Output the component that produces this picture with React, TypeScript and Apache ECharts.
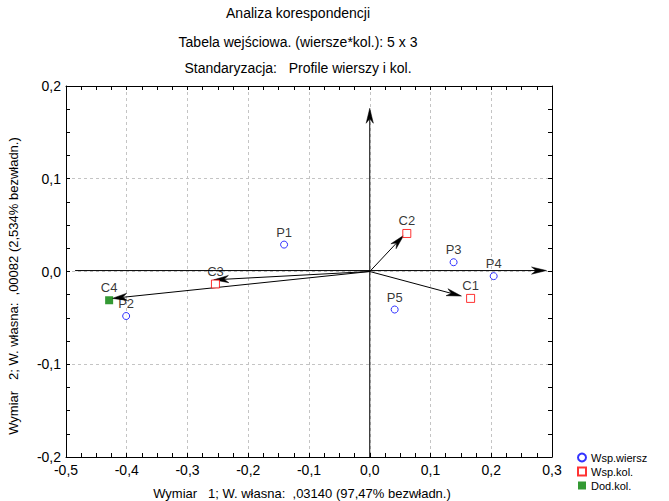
import React, { useEffect, useRef } from "react";
import * as echarts from "echarts";

const rowNames = ["P1", "P2", "P3", "P4", "P5"];
const rowX = [-0.141, -0.401, 0.138, 0.204, 0.041];
const rowY = [0.029, -0.048, 0.01, -0.005, -0.041];

const colNames = ["C1", "C2", "C3"];
const colX = [0.166, 0.061, -0.254];
const colY = [-0.029, 0.041, -0.0135];

const addNames = ["C4"];
const addX = [-0.429];
const addY = [-0.031];

// arrow end points (column vectors, starting at origin)
const arrowX = [0.151, 0.056, -0.257, -0.424];
const arrowY = [-0.0265, 0.039, -0.009, -0.029];

// main axes arrows [x0, y0, x1, y1]
const hAxisArrow = [-0.485, 0.001, 0.291, 0.001];
const vAxisArrow = [0, -0.2, 0, 0.176];

const titleLines = [
  "Analiza korespondencji",
  "Tabela wejściowa. (wiersze*kol.): 5 x 3",
  "Standaryzacja:   Profile wierszy i kol.",
];
const xName = "Wymiar   1; W. własna:  ,03140 (97,47% bezwładn.)";
const yName = "Wymiar   2; W. własna:  ,00082 (2,534% bezwładn.)";
const legendNames = ["Wsp.wiersz", "Wsp.kol.", "Dod.kol."];

const FONT = "Liberation Sans, Arial, sans-serif";
const fmt = (v: number) => v.toFixed(1).replace(".", ",");

export default function App() {
  const ref = useRef<HTMLDivElement>(null);
  useEffect(() => {
    if (!ref.current) return;
    const chart = echarts.init(ref.current, undefined, { renderer: "svg" });
    const mk = (names: string[], xs: number[], ys: number[]) =>
      names.map((n, i) => ({ name: n, value: [xs[i], ys[i]] }));
    const label = {
      show: true,
      position: "top",
      distance: 2,
      formatter: "{b}",
      color: "#000",
      fontFamily: FONT,
      fontSize: 13,
    };
    const axisCommon = (min: number, max: number, interval: number) => ({
      type: "value",
      min,
      max,
      interval,
      axisLine: { show: true, onZero: false, lineStyle: { color: "#000", width: 1 } },
      axisTick: { show: true, inside: true, length: 4, lineStyle: { color: "#000" } },
      minorTick: { show: true, splitNumber: 4, length: 4, lineStyle: { color: "#000" } },
      splitLine: { show: false },
    });
    const arrowData = [
      hAxisArrow,
      vAxisArrow,
      ...arrowX.map((x, i) => [0, 0, x, arrowY[i]]),
    ];
    const renderArrow = (params: any, api: any) => {
      const p0 = api.coord([api.value(0), api.value(1)]);
      const p1 = api.coord([api.value(2), api.value(3)]);
      const dx = p1[0] - p0[0];
      const dy = p1[1] - p0[1];
      const len = Math.sqrt(dx * dx + dy * dy) || 1;
      const ux = dx / len;
      const uy = dy / len;
      const nx = -uy;
      const ny = ux;
      const L = 15;
      const W = 3.6;
      const notch = 4.5;
      const back = [p1[0] - ux * L, p1[1] - uy * L];
      const notchPt = [p1[0] - ux * (L - notch), p1[1] - uy * (L - notch)];
      return {
        type: "group",
        children: [
          {
            type: "line",
            shape: { x1: p0[0], y1: p0[1], x2: notchPt[0], y2: notchPt[1] },
            style: { stroke: "#000", lineWidth: 1 },
          },
          {
            type: "polygon",
            shape: {
              points: [
                p1,
                [back[0] + nx * W, back[1] + ny * W],
                notchPt,
                [back[0] - nx * W, back[1] - ny * W],
              ],
            },
            style: { fill: "#000", stroke: "#000", lineWidth: 0.5 },
          },
        ],
      };
    };
    chart.setOption({
      animation: false,
      backgroundColor: "#fff",
      textStyle: { fontFamily: FONT },
      grid: { left: 66, top: 86, width: 486, height: 371, show: false },
      xAxis: [
        {
          ...axisCommon(-0.5, 0.3, 0.1),
          position: "bottom",
          axisLabel: { formatter: fmt, color: "#000", fontSize: 14, fontFamily: FONT, margin: 6 },
          splitLine: { show: true, lineStyle: { color: "#c4c4c4", type: [3, 3], width: 1 } },
        },
        {
          ...axisCommon(-0.5, 0.3, 0.1),
          position: "top",
          axisLabel: { show: false },
        },
      ],
      yAxis: [
        {
          ...axisCommon(-0.2, 0.2, 0.1),
          position: "left",
          axisLabel: { formatter: fmt, color: "#000", fontSize: 14, fontFamily: FONT, margin: 5 },
          splitLine: { show: true, lineStyle: { color: "#c4c4c4", type: [3, 3], width: 1 } },
        },
        {
          ...axisCommon(-0.2, 0.2, 0.1),
          position: "right",
          axisLabel: { show: false },
        },
      ],
      legend: {
        data: legendNames,
        orient: "vertical",
        left: 577,
        top: 452,
        itemWidth: 8,
        itemHeight: 8,
        itemGap: 3,
        textStyle: { fontSize: 11, fontFamily: FONT, color: "#000" },
        padding: 0,
      },
      graphic: [
        ...titleLines.map((t, i) => ({
          type: "text",
          x: 298,
          y: [13, 42, 68][i],
          style: { text: t, font: `14px ${FONT}`, fill: "#000", textAlign: "center", textVerticalAlign: "middle" },
        })),
        {
          type: "text",
          x: 302,
          y: 493,
          style: { text: xName, font: `13px ${FONT}`, fill: "#000", textAlign: "center", textVerticalAlign: "middle" },
        },
        {
          type: "text",
          x: 13,
          y: 286,
          rotation: Math.PI / 2,
          style: { text: yName, font: `13px ${FONT}`, fill: "#000", textAlign: "center", textVerticalAlign: "middle" },
        },
      ],
      series: [
        {
          type: "custom",
          coordinateSystem: "cartesian2d",
          silent: true,
          clip: false,
          renderItem: renderArrow,
          encode: { x: [0, 2], y: [1, 3] },
          data: arrowData,
          z: 3,
        },
        {
          name: legendNames[0],
          type: "scatter",
          symbol: "circle",
          symbolSize: 7,
          itemStyle: { color: "#fff", borderColor: "#0000ff", borderWidth: 1 },
          label,
          data: mk(rowNames, rowX, rowY),
          z: 4,
        },
        {
          name: legendNames[1],
          type: "scatter",
          symbol: "rect",
          symbolSize: 8,
          itemStyle: { color: "#fff", borderColor: "#ff0000", borderWidth: 1 },
          label,
          data: mk(colNames, colX, colY),
          z: 4,
        },
        {
          name: legendNames[2],
          type: "scatter",
          symbol: "rect",
          symbolSize: 8,
          itemStyle: { color: "#008000" },
          label,
          data: mk(addNames, addX, addY),
          z: 4,
        },
      ],
    });
    return () => chart.dispose();
  }, []);
  return <div ref={ref} style={{ width: 669, height: 501, position: "absolute", left: 0, top: 0 }} />;
}
